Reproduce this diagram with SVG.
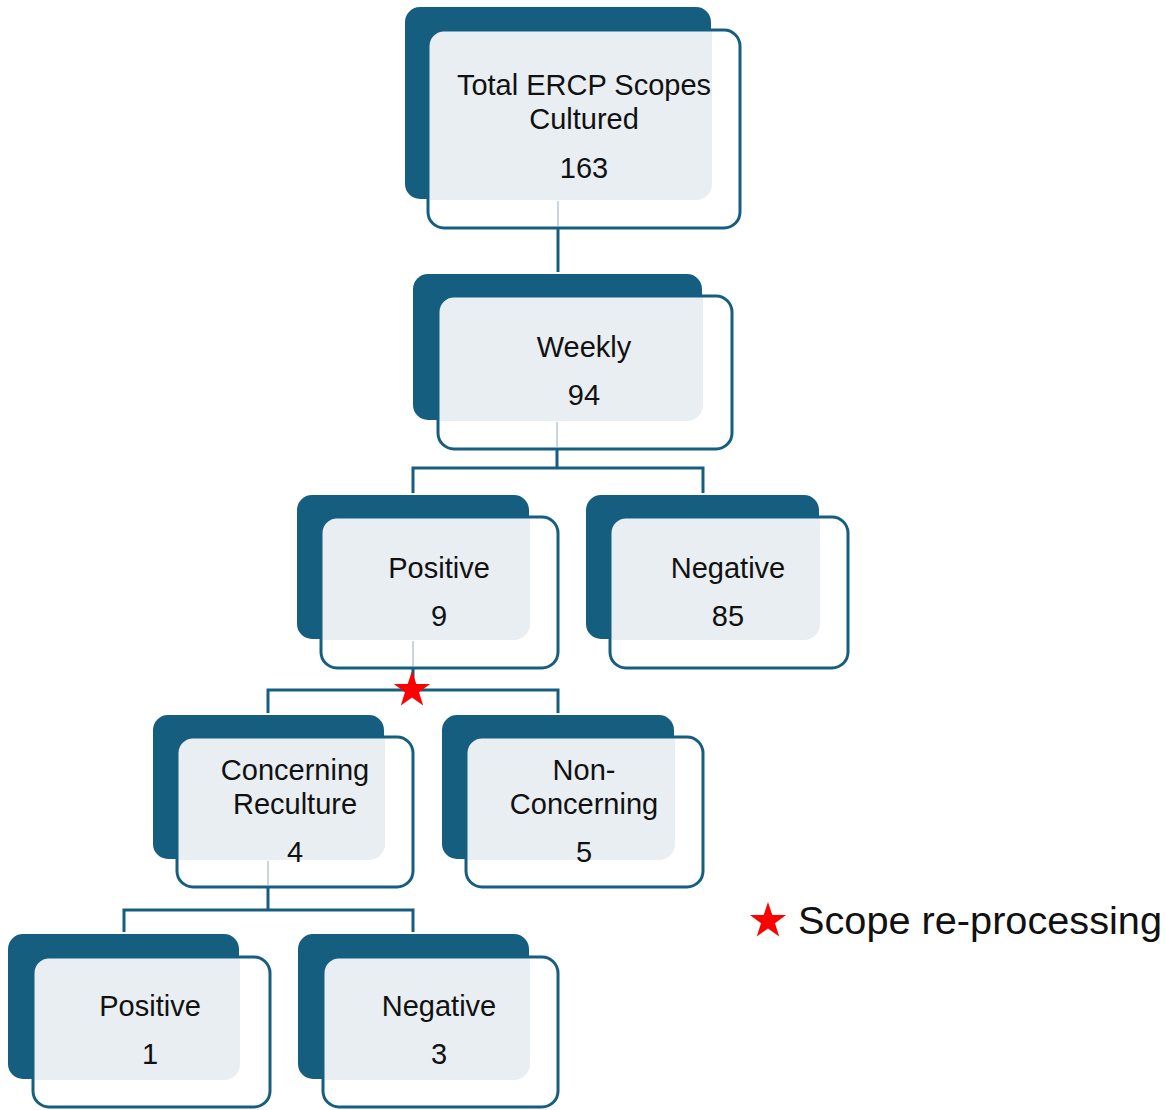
<svg xmlns="http://www.w3.org/2000/svg" width="1166" height="1110" viewBox="0 0 1166 1110">
<style>
.back{fill:#165E80;stroke:#ffffff;stroke-width:2}
.light{fill:#E8EEF2}
.front{fill:none;stroke:#165E80;stroke-width:3}
.conn{fill:none;stroke:#165E80;stroke-width:3}
.faint{fill:none;stroke:#C9D6DF;stroke-width:2}
.t{font-family:"Liberation Sans",Arial,sans-serif;font-size:29px;fill:#111111;text-anchor:middle}
.lg{font-family:"Liberation Sans",Arial,sans-serif;font-size:39.7px;fill:#111111}
.star{fill:#FF0000}
</style>
<defs>
<path id="star" d="M0,-19 L4.3,-6 L18.1,-5.9 L7,2.3 L11.2,15.4 L0,7.4 L-11.2,15.4 L-7,2.3 L-18.1,-5.9 L-4.3,-6 Z"/>
</defs>
<rect width="1166" height="1110" fill="#ffffff"/>
<g id="connectors">
<path class="conn" d="M558,228 V273"/>
<path class="conn" d="M557,449 V468 M413,494 V468 H703 V494"/>
<path class="conn" d="M413,668 V690 M268,714 V690 H558 V714"/>
<path class="conn" d="M268,887 V910 M124,933 V910 H413 V933"/>
</g>
<g id="n-total">
<rect class="back" x="404" y="6" width="308" height="194" rx="16"/>
<path class="light" d="M428,46 A16,16 0 0 1 444,30 L712,30 L712,184 A16,16 0 0 1 696,200 L428,200 Z"/>
<rect class="front" x="428" y="30" width="312" height="198" rx="16"/>
<path class="faint" d="M558,201 V226"/>
<text class="t" x="584" y="95">Total ERCP Scopes</text>
<text class="t" x="584" y="129">Cultured</text>
<text class="t" x="584" y="178">163</text>
</g>
<g id="n-weekly">
<rect class="back" x="412" y="273" width="291" height="148" rx="16"/>
<path class="light" d="M438,312 A16,16 0 0 1 454,296 L703,296 L703,405 A16,16 0 0 1 687,421 L438,421 Z"/>
<rect class="front" x="438" y="296" width="294" height="153" rx="16"/>
<path class="faint" d="M557,422 V447"/>
<text class="t" x="584" y="357">Weekly</text>
<text class="t" x="584" y="405">94</text>
</g>
<g id="n-positive">
<rect class="back" x="296" y="494" width="234" height="146" rx="16"/>
<path class="light" d="M321,533 A16,16 0 0 1 337,517 L530,517 L530,624 A16,16 0 0 1 514,640 L321,640 Z"/>
<rect class="front" x="321" y="517" width="237" height="151" rx="16"/>
<path class="faint" d="M413,641 V666"/>
<text class="t" x="439" y="578">Positive</text>
<text class="t" x="439" y="626">9</text>
</g>
<g id="n-negative">
<rect class="back" x="585" y="494" width="235" height="146" rx="16"/>
<path class="light" d="M610,533 A16,16 0 0 1 626,517 L820,517 L820,624 A16,16 0 0 1 804,640 L610,640 Z"/>
<rect class="front" x="610" y="517" width="238" height="151" rx="16"/>
<text class="t" x="728" y="578">Negative</text>
<text class="t" x="728" y="626">85</text>
</g>
<g id="n-concerning">
<rect class="back" x="152" y="714" width="233" height="146" rx="16"/>
<path class="light" d="M177,753 A16,16 0 0 1 193,737 L385,737 L385,844 A16,16 0 0 1 369,860 L177,860 Z"/>
<rect class="front" x="177" y="737" width="236" height="150" rx="16"/>
<path class="faint" d="M268,861 V885"/>
<text class="t" x="295" y="780">Concerning</text>
<text class="t" x="295" y="814">Reculture</text>
<text class="t" x="295" y="862">4</text>
</g>
<g id="n-nonconcerning">
<rect class="back" x="441" y="714" width="234" height="146" rx="16"/>
<path class="light" d="M466,753 A16,16 0 0 1 482,737 L675,737 L675,844 A16,16 0 0 1 659,860 L466,860 Z"/>
<rect class="front" x="466" y="737" width="237" height="150" rx="16"/>
<text class="t" x="584" y="780">Non-</text>
<text class="t" x="584" y="814">Concerning</text>
<text class="t" x="584" y="862">5</text>
</g>
<g id="n-pos1">
<rect class="back" x="7" y="933" width="233" height="147" rx="16"/>
<path class="light" d="M33,973 A16,16 0 0 1 49,957 L240,957 L240,1064 A16,16 0 0 1 224,1080 L33,1080 Z"/>
<rect class="front" x="33" y="957" width="237" height="150" rx="16"/>
<text class="t" x="150" y="1016">Positive</text>
<text class="t" x="150" y="1064">1</text>
</g>
<g id="n-neg3">
<rect class="back" x="297" y="933" width="233" height="147" rx="16"/>
<path class="light" d="M323,973 A16,16 0 0 1 339,957 L530,957 L530,1064 A16,16 0 0 1 514,1080 L323,1080 Z"/>
<rect class="front" x="323" y="957" width="235" height="150" rx="16"/>
<text class="t" x="439" y="1016">Negative</text>
<text class="t" x="439" y="1064">3</text>
</g>
<g id="marker-star">
<use href="#star" class="star" transform="translate(412,690)"/>
</g>
<g id="legend">
<use href="#star" class="star" transform="translate(768,921)"/>
<text class="lg" x="798" y="934">Scope re-processing</text>
</g>
</svg>
